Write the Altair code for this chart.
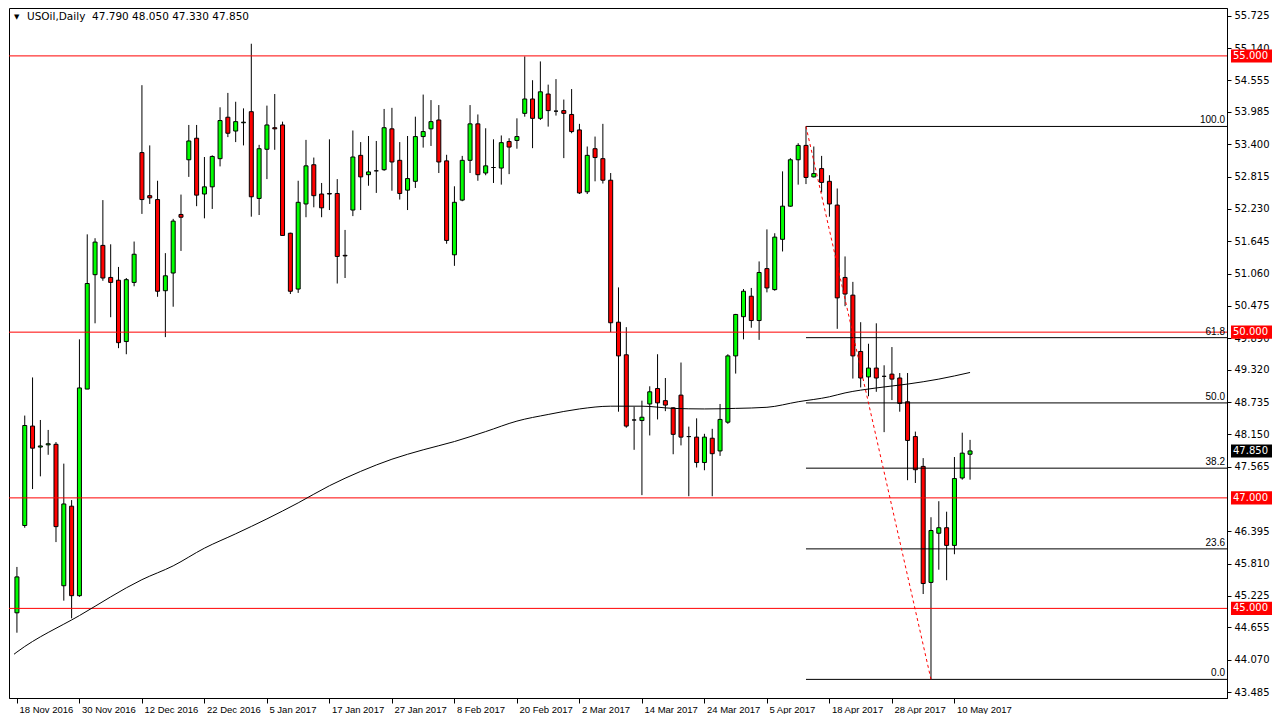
import json
import altair as alt
import pandas as pd

# ---------------- data ----------------
opens = [44.92, 46.50, 48.30, 47.92, 47.96, 47.97, 45.41, 46.85, 45.23, 48.97,
         51.04, 51.57, 50.99, 50.94, 49.83, 50.90, 53.25, 52.47, 52.40, 50.75,
         51.07, 52.13, 53.12, 53.51, 52.50, 52.63, 53.14, 53.89, 53.64, 53.79,
         53.99, 52.42, 53.31, 53.70, 53.75, 51.79, 50.78, 52.32, 53.03, 52.50,
         52.51, 52.51, 51.39, 52.21, 53.20, 52.85, 52.92, 52.94, 53.68, 53.11,
         52.57, 52.73, 53.54, 53.68, 53.84, 53.10, 51.40, 52.39, 53.11, 53.77,
         52.88, 52.98, 52.97, 53.45, 53.47, 53.96, 54.22, 53.87, 54.31, 54.00,
         54.01, 53.94, 53.66, 52.54, 53.32, 53.14, 52.75, 50.18, 49.59, 48.41,
         48.40, 48.70, 48.98, 48.76, 48.63, 48.86, 48.11, 48.10, 47.64, 48.08,
         47.85, 48.37, 49.57, 50.28, 50.65, 50.21, 51.15, 50.77, 51.68, 52.28,
         53.12, 53.38, 52.81, 52.96, 52.73, 52.30, 50.99, 50.67, 49.65, 49.19,
         49.35, 49.20, 49.24, 49.17, 48.74, 48.11, 47.57, 45.47, 46.36, 46.46,
         46.14, 47.36, 47.79]
highs = [45.75, 48.49, 49.18, 48.41, 48.23, 48.01, 47.62, 46.96, 49.87, 51.77,
         51.70, 52.39, 51.59, 51.18, 50.98, 51.64, 54.47, 53.38, 52.74, 51.43,
         52.05, 52.49, 53.75, 53.75, 53.17, 53.20, 54.07, 54.33, 54.17, 54.05,
         55.22, 53.39, 54.10, 54.31, 53.81, 51.80, 52.74, 53.48, 53.16, 52.70,
         53.49, 52.77, 51.85, 53.65, 53.44, 53.55, 53.46, 54.04, 54.06, 53.44,
         53.55, 53.90, 54.30, 54.20, 54.11, 53.21, 52.64, 53.19, 54.11, 53.94,
         53.69, 53.49, 53.56, 53.51, 53.87, 54.99, 54.56, 54.90, 54.48, 54.58,
         54.21, 54.40, 53.77, 53.36, 53.54, 53.77, 52.88, 50.81, 50.09, 48.65,
         48.76, 49.02, 49.60, 49.17, 48.64, 49.45, 48.29, 48.44, 48.16, 48.25,
         48.70, 49.60, 50.33, 50.78, 50.80, 51.28, 51.86, 51.79, 52.91, 53.15,
         53.42, 53.723, 53.36, 53.19, 52.84, 52.60, 51.37, 50.91, 50.18, 49.79,
         50.16, 49.40, 49.73, 49.26, 49.26, 48.20, 47.72, 46.65, 46.94, 46.75,
         47.74, 48.18, 48.05]
lows = [44.56, 46.46, 47.16, 47.39, 47.78, 46.20, 45.14, 44.82, 45.21, 48.97,
        50.16, 50.93, 50.27, 49.71, 49.60, 50.83, 52.14, 52.32, 50.64, 49.91,
        50.46, 51.47, 52.81, 52.28, 52.06, 52.23, 53.00, 53.53, 53.44, 53.38,
        52.09, 52.12, 52.77, 53.30, 51.74, 50.69, 50.71, 52.08, 52.26, 52.08,
        52.21, 50.88, 50.98, 52.10, 52.21, 52.65, 52.52, 52.92, 52.56, 52.40,
        52.21, 52.61, 53.34, 53.37, 52.88, 51.60, 51.20, 52.37, 52.88, 52.74,
        52.84, 52.70, 52.67, 52.86, 53.32, 53.90, 53.33, 53.84, 53.72, 53.92,
        53.15, 53.60, 52.50, 52.50, 52.73, 52.69, 50.00, 48.56, 48.27, 47.87,
        47.05, 48.13, 48.42, 48.57, 47.79, 47.95, 47.03, 47.55, 47.50, 47.03,
        47.76, 48.34, 49.25, 49.87, 50.08, 49.86, 50.72, 50.75, 51.46, 52.27,
        52.67, 52.68, 52.80, 52.53, 52.09, 50.06, 50.47, 49.16, 49.00, 48.84,
        48.92, 48.19, 48.77, 48.56, 47.32, 47.27, 45.26, 43.715, 45.70, 45.51,
        45.98, 47.33, 47.33]
closes = [45.57, 48.31, 47.90, 47.94, 47.98, 46.48, 46.89, 45.23, 48.99, 50.88,
          51.63, 50.98, 50.90, 49.81, 50.95, 51.41, 52.40, 52.43, 50.74, 51.02,
          52.01, 52.08, 53.46, 52.48, 52.63, 53.18, 53.83, 53.60, 53.81, 53.80,
          52.45, 53.32, 53.75, 53.68, 51.75, 50.74, 52.35, 53.01, 52.47, 52.25,
          52.50, 51.37, 51.38, 53.17, 52.81, 52.90, 52.92, 53.70, 53.08, 52.51,
          52.78, 53.54, 53.63, 53.81, 53.08, 51.66, 52.35, 53.11, 53.77, 52.85,
          53.01, 52.98, 53.43, 53.35, 53.54, 54.22, 53.87, 54.35, 54.01, 54.00,
          53.96, 53.63, 52.52, 53.20, 53.16, 52.75, 50.17, 49.57, 48.30, 48.41,
          48.46, 48.92, 48.72, 48.68, 48.15, 48.10, 48.11, 47.64, 48.10, 47.80,
          48.42, 49.57, 50.32, 50.74, 50.21, 51.08, 50.80, 51.72, 52.28, 53.12,
          53.38, 52.80, 52.87, 52.71, 52.32, 50.62, 50.69, 49.57, 49.17, 49.35,
          49.17, 49.20, 49.15, 48.71, 48.04, 47.51, 45.45, 46.41, 46.46, 46.14,
          47.35, 47.81, 47.85]
bar_index = list(range(len(opens)))

# moving average (read at selected bars; first point is the left edge)
ma_index = [-0.375, 0, 8, 16, 20, 24, 28, 32, 36, 40, 44, 48, 52, 56, 60, 64, 68, 72,
            76, 80, 84, 88, 92, 96, 100, 104, 106, 110, 114, 118, 122]
ma_value = [44.17, 44.21, 44.87, 45.52, 45.77, 46.09, 46.35, 46.62, 46.91, 47.22, 47.48,
            47.70, 47.87, 48.02, 48.20, 48.39, 48.51, 48.61, 48.66, 48.66, 48.62,
            48.61, 48.62, 48.64, 48.74, 48.83, 48.90, 48.99, 49.06, 49.15, 49.27]

# horizontal red levels and current price
red_levels = [55.0, 50.0, 47.0, 45.0]
last_price = 47.85

# fibonacci
fib_start, fib_end = 101, 117
fib_high, fib_low = 53.723, 43.715
fib_levels = [100.0, 61.8, 50.0, 38.2, 23.6, 0.0]

# axis ticks
x_tick_index = [0, 8, 16, 24, 32, 40, 48, 56, 64, 72, 80, 88, 96, 104, 112, 120]
x_tick_labels = ["18 Nov 2016", "30 Nov 2016", "12 Dec 2016", "22 Dec 2016",
                 "5 Jan 2017", "17 Jan 2017", "27 Jan 2017", "8 Feb 2017",
                 "20 Feb 2017", "2 Mar 2017", "14 Mar 2017", "24 Mar 2017",
                 "5 Apr 2017", "18 Apr 2017", "28 Apr 2017", "10 May 2017"]
y_ticks = [55.725, 55.140, 54.555, 53.985, 53.400, 52.815, 52.230, 51.645,
           51.060, 50.475, 49.890, 49.320, 48.735, 48.150, 47.565, 46.395,
           45.810, 45.225, 44.655, 44.070, 43.485]

title_text = "USOil,Daily\u00a0 47.790 48.050 47.330 47.850"

# ---------------- layout ----------------
W, H = 1218, 690
half_box = 0.118

df = pd.DataFrame({"i": bar_index, "o": opens, "h": highs, "l": lows, "c": closes})
df["dir"] = ["up" if c >= o else "down" for o, c in zip(opens, closes)]

label_map = json.dumps({str(k): v for k, v in zip(x_tick_index, x_tick_labels)})

xscale = alt.Scale(domain=[-0.375, 154.25], nice=False, zero=False)
yscale = alt.Scale(domain=[43.378, 55.867], nice=False, zero=False)
xaxis = alt.Axis(values=x_tick_index, labelExpr=f"{label_map}[datum.value]", title=None,
                 grid=False, labelAlign="left", labelFlush=False, labelOverlap=False,
                 tickSize=5, tickColor="black", domainColor="black", labelColor="black",
                 labelFont="Liberation Sans", labelFontSize=9.5, labelPadding=1,
                 labelOffset=2)
yaxis = alt.Axis(orient="right", values=y_ticks, format=".3f", title=None, grid=False,
                 tickSize=4, tickColor="black", domainColor="black", labelColor="black",
                 labelFont="DejaVu Sans", labelFontSize=10, labelPadding=3,
                 labelOverlap=False, labelFlush=False)


def X(f):
    return alt.X(f, type="quantitative", scale=xscale, axis=xaxis)


def Y(f):
    return alt.Y(f, type="quantitative", scale=yscale, axis=yaxis)


base = alt.Chart(df)
wicks = base.mark_rule(color="black", strokeWidth=1).encode(x=X("i"), y=Y("l"), y2="h")
bodies = base.mark_bar(size=4, stroke="black", strokeWidth=1).encode(
    x=X("i"), y=Y("o"), y2="c",
    color=alt.Color("dir:N", scale=alt.Scale(domain=["up", "down"], range=["#00ff00", "#ff0000"]),
                    legend=None))

lv = pd.DataFrame({"v": red_levels})
red_lines = alt.Chart(lv).mark_rule(color="#ff0000", strokeWidth=1).encode(y=Y("v"))

ma_df = pd.DataFrame({"i": ma_index, "v": ma_value})
ma_line = alt.Chart(ma_df).mark_line(color="black", strokeWidth=1, interpolate="monotone").encode(
    x=X("i"), y=Y("v"))

fib_df = pd.DataFrame({"lvl": fib_levels})
fib_df["v"] = fib_low + (fib_high - fib_low) * fib_df["lvl"] / 100.0
fib_df["i"] = fib_start
fib_df["txt"] = [f"{x:.1f}" for x in fib_levels]
fib_lines = alt.Chart(fib_df).mark_rule(color="black", strokeWidth=1).encode(
    x=X("i"), x2=alt.value(W), y=Y("v"))
fib_text = alt.Chart(fib_df).mark_text(align="right", baseline="bottom", dy=-1, fontSize=10,
                                       font="Liberation Sans", color="black").encode(
    x=alt.value(W - 2), y=Y("v"), text="txt:N")

diag_df = pd.DataFrame({"i": [fib_start, fib_end], "v": [fib_high, fib_low]})
diag = alt.Chart(diag_df).mark_line(color="#ff0000", strokeWidth=1, strokeDash=[3, 3]).encode(
    x=X("i"), y=Y("v"))

box_df = pd.DataFrame({"v": red_levels + [last_price],
                       "col": ["#ff0000"] * len(red_levels) + ["#000000"]})
box_df["txt"] = [f"{x:.3f}" for x in box_df["v"]]
boxes = alt.Chart(box_df).transform_calculate(
    top=f"datum.v + {half_box}", bot=f"datum.v - {half_box}"
).mark_rect().encode(
    x=alt.value(W + 4), x2=alt.value(W + 45), y=Y("top:Q"), y2="bot:Q",
    color=alt.Color("col:N", scale=None))
box_text = alt.Chart(box_df).mark_text(align="left", baseline="middle", fontSize=10,
                                       font="DejaVu Sans", color="white").encode(
    x=alt.value(W + 6), y=Y("v"), text="txt:N")

tdf = pd.DataFrame({"t": [title_text], "tri": ["\u25bc"]})
title = alt.Chart(tdf).mark_text(align="left", baseline="middle", fontSize=10.5,
                                 font="DejaVu Sans", color="black").encode(
    x=alt.value(18), y=alt.value(9), text="t:N")
tri = alt.Chart(tdf).mark_text(align="left", baseline="middle", fontSize=7,
                               font="DejaVu Sans", color="black").encode(
    x=alt.value(5), y=alt.value(9), text="tri:N")

chart = alt.layer(
    wicks, bodies, red_lines, ma_line, fib_lines, diag, fib_text, boxes, box_text, title, tri
).properties(width=W, height=H, padding=0, background="white").configure_view(
    stroke="black", strokeWidth=1)

chart.save("out.html", embed_options={"renderer": "svg", "actions": False})
